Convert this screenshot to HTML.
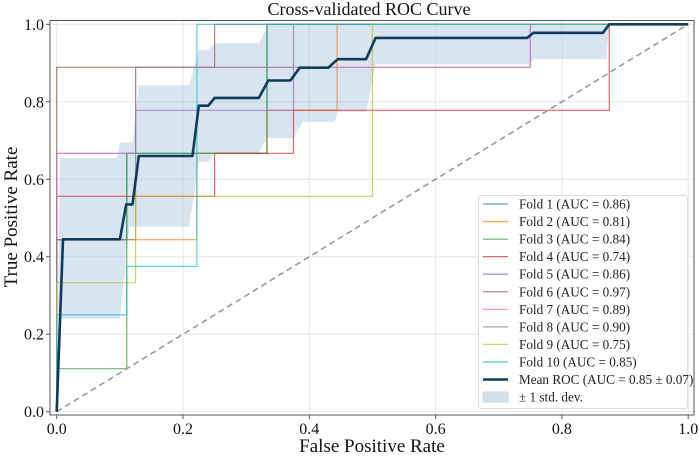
<!DOCTYPE html>
<html><head><meta charset="utf-8"><style>
body{margin:0;background:#fff}
svg{display:block;font-family:"Liberation Serif",serif}
</style></head><body>
<svg id="chart" width="699" height="457" viewBox="0 0 699 457"></svg>
<script>
const xTicks=[0,0.2,0.4,0.6,0.8,1.0];
const yTicks=[0,0.2,0.4,0.6,0.8,1.0];
const tickLabels=["0.0","0.2","0.4","0.6","0.8","1.0"];
const foldNames=["Fold 1 (AUC = 0.86)","Fold 2 (AUC = 0.81)","Fold 3 (AUC = 0.84)","Fold 4 (AUC = 0.74)","Fold 5 (AUC = 0.86)","Fold 6 (AUC = 0.97)","Fold 7 (AUC = 0.89)","Fold 8 (AUC = 0.90)","Fold 9 (AUC = 0.75)","Fold 10 (AUC = 0.85)"];
const foldColors=["#1f77b4","#ff7f0e","#2ca02c","#d62728","#9467bd","#8c564b","#e377c2","#7f7f7f","#bcbd22","#17becf"];
const fold1=[[0,0],[0,0.444],[0.111,0.444],[0.111,0.667],[0.333,0.667],[0.333,1],[1,1]];
const fold2=[[0,0],[0,0.444],[0.222,0.444],[0.222,0.667],[0.333,0.667],[0.333,0.778],[0.444,0.778],[0.444,1],[1,1]];
const fold3=[[0,0],[0,0.111],[0.111,0.111],[0.111,0.667],[0.333,0.667],[0.333,1],[1,1]];
const fold4=[[0,0],[0,0.556],[0.25,0.556],[0.25,0.667],[0.375,0.667],[0.375,0.778],[0.875,0.778],[0.875,1],[1,1]];
const fold5=[[0,0],[0,0.667],[0.125,0.667],[0.125,0.778],[0.375,0.778],[0.375,0.889],[0.75,0.889],[0.75,1],[1,1]];
const fold6=[[0,0],[0,0.889],[0.25,0.889],[0.25,1],[1,1]];
const fold7=[[0,0],[0,0.667],[0.125,0.667],[0.125,0.889],[0.75,0.889],[0.75,1],[1,1]];
const fold8=[[0,0],[0,0.444],[0.125,0.444],[0.125,0.889],[0.375,0.889],[0.375,1],[1,1]];
const fold9=[[0,0],[0,0.333],[0.125,0.333],[0.125,0.556],[0.5,0.556],[0.5,1],[1,1]];
const fold10=[[0,0],[0,0.25],[0.111,0.25],[0.111,0.375],[0.222,0.375],[0.222,1],[1,1]];
const folds=[fold1,fold2,fold3,fold4,fold5,fold6,fold7,fold8,fold9,fold10];
const meanRoc=[[0,0],[0.01,0.445],[0.1,0.445],[0.11,0.535],[0.12,0.535],[0.13,0.66],[0.215,0.66],[0.225,0.79],[0.24,0.79],[0.25,0.81],[0.32,0.81],[0.335,0.855],[0.37,0.855],[0.385,0.888],[0.43,0.888],[0.445,0.91],[0.49,0.91],[0.505,0.965],[0.745,0.965],[0.755,0.978],[0.865,0.978],[0.875,1],[1,1]];
const stdUpper=[[0,0],[0.005,0.655],[0.095,0.655],[0.1,0.695],[0.12,0.695],[0.13,0.843],[0.21,0.843],[0.225,0.934],[0.24,0.934],[0.25,0.951],[0.32,0.951],[0.335,1],[1,1]];
const stdLower=[[0,0],[0.005,0.24],[0.1,0.24],[0.115,0.477],[0.21,0.477],[0.225,0.645],[0.24,0.645],[0.25,0.667],[0.32,0.667],[0.333,0.706],[0.375,0.706],[0.39,0.748],[0.44,0.748],[0.445,0.774],[0.49,0.774],[0.505,0.897],[0.75,0.897],[0.755,0.91],[0.87,0.91],[0.875,1],[1,1]];

const svg=document.getElementById('chart');
const NS='http://www.w3.org/2000/svg';
const X0=56.7,XW=631.5,Y0=411.7,YH=387.4;
const px=v=>X0+XW*v, py=v=>Y0-YH*v;
function mk(tag,attrs,parent){const e=document.createElementNS(NS,tag);for(const k in attrs)e.setAttribute(k,attrs[k]);(parent||svg).appendChild(e);return e;}
const pts=a=>a.map(p=>px(p[0]).toFixed(1)+','+py(p[1]).toFixed(1)).join(' ');

const title=mk('text',{x:369,y:15,'font-size':18,'text-anchor':'middle',fill:'#111'});
title.textContent='Cross-validated ROC Curve';



const grid=mk('g',{});


xTicks.forEach(t=>mk('line',{x1:px(t),x2:px(t),y1:20.5,y2:415,stroke:'#e6e6e6','stroke-width':1},grid));
yTicks.forEach(t=>mk('line',{x1:50,x2:694,y1:py(t),y2:py(t),stroke:'#e6e6e6','stroke-width':1},grid));

const band=mk('polygon',{points:pts(stdUpper.concat(stdLower.slice().reverse())),fill:'#a9c4dc','fill-opacity':0.45,stroke:'none'});



folds.forEach((f,i)=>{
  const l=mk('polyline',{points:pts(f),fill:'none',stroke:foldColors[i],'stroke-opacity':0.7,'stroke-width':1.2});
  
  
});

const diag=mk('line',{x1:px(0),y1:py(0),x2:px(1),y2:py(1),stroke:'#999','stroke-width':1.6,'stroke-dasharray':'6,4'});



const mean=mk('polyline',{points:pts(meanRoc),fill:'none',stroke:'#0e3d5c','stroke-width':2.6,'stroke-linejoin':'round'});



const frame=mk('rect',{x:50,y:20.5,width:644,height:394.5,fill:'none',stroke:'#555','stroke-width':1});



xTicks.forEach((t,i)=>{
  mk('line',{x1:px(t),x2:px(t),y1:415,y2:419,stroke:'#555'});
  const tx=mk('text',{x:px(t),y:434,'font-size':16,'text-anchor':'middle',fill:'#111'});
  tx.textContent=tickLabels[i];
  
  
});
yTicks.forEach((t,i)=>{
  mk('line',{x1:46,x2:50,y1:py(t),y2:py(t),stroke:'#555'});
  const tx=mk('text',{x:44,y:py(t)+5.5,'font-size':16,'text-anchor':'end',fill:'#111'});
  tx.textContent=tickLabels[i];
  
  
});
const xl=mk('text',{x:372,y:452,'font-size':19,'text-anchor':'middle',fill:'#111'});
xl.textContent='False Positive Rate';


const yl=mk('text',{x:0,y:0,'font-size':19,'text-anchor':'middle',fill:'#111',transform:'translate(17,217) rotate(-90)'});
yl.textContent='True Positive Rate';



const lg=mk('g',{});


mk('rect',{x:478.5,y:195.5,width:209,height:213,rx:3,fill:'#fff','fill-opacity':0.85,stroke:'#ddd'},lg);
const names=foldNames.concat(['Mean ROC (AUC = 0.85 \u00b1 0.07)','\u00b1 1 std. dev.']);
names.forEach((n,i)=>{
  const y=204+i*17.55;
  const e=mk('g',{},lg);
  
  
  if(i<10) mk('line',{x1:483,x2:508,y1:y,y2:y,stroke:foldColors[i],'stroke-opacity':0.7,'stroke-width':1.3},e);
  else if(i==10) mk('line',{x1:483,x2:508,y1:y,y2:y,stroke:'#0e3d5c','stroke-width':2.6},e);
  else mk('rect',{x:483,y:y-5,width:25,height:10,fill:'#a9c4dc','fill-opacity':0.5,stroke:'#c5d7e6'},e);
  const t=mk('text',{x:519,y:y+4.5,'font-size':13.2,fill:'#222'},e);
  t.textContent=n;
});
</script>
</body></html>
